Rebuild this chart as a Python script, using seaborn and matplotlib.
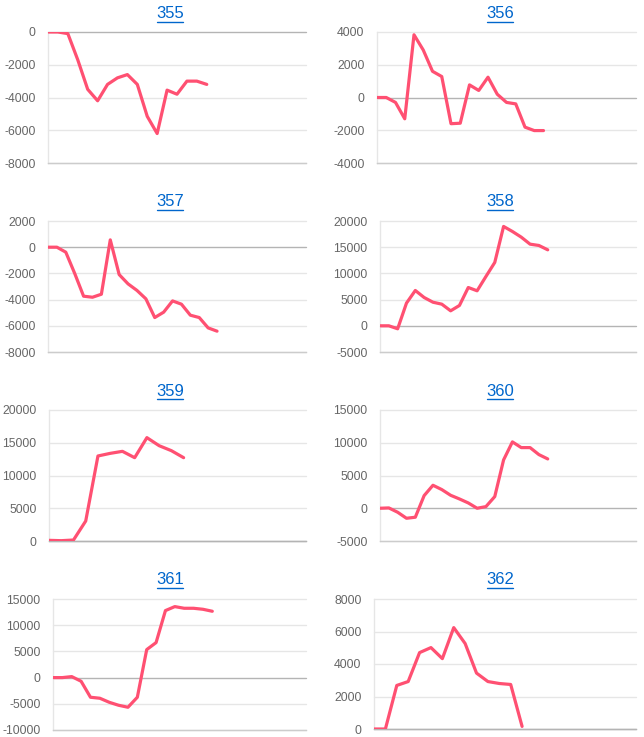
import numpy as np
import pandas as pd
import matplotlib
matplotlib.use("Agg")
import matplotlib.pyplot as plt
import seaborn as sns
from matplotlib.lines import Line2D

# ---- data ----
titles = ["355", "356", "357", "358", "359", "360", "361", "362"]

v355 = [0, 0, -100, -1700, -3500, -4200, -3200, -2800, -2600, -3200,
        -5150, -6200, -3550, -3800, -3000, -3000, -3200]
v356 = [0, 0, -300, -1300, 3830, 2900, 1600, 1280, -1600, -1570,
        770, 430, 1240, 200, -300, -390, -1810, -2020, -2020]
v357 = [0, 0, -380, -2000, -3740, -3820, -3590, 560, -2090, -2800,
        -3300, -3940, -5370, -4960, -4100, -4350, -5190, -5370, -6160, -6410]
v358 = [0, 0, -570, 4330, 6740, 5400, 4500, 4130, 2860, 3880,
        7310, 6680, 9410, 12090, 18960, 18000, 16920, 15580, 15330, 14500]
v359 = [100, 50, 150, 3050, 12980, 13380, 13690, 12720, 15780, 14550,
        13790, 12720]
v360 = [0, 50, -610, -1530, -1370, 1930, 3510, 2850, 1980, 1420,
        810, 0, 250, 1780, 7380, 10130, 9260, 9260, 8190, 7530]
v361 = [0, 0, 190, -700, -3750, -3940, -4710, -5280, -5660, -3750,
        5340, 6680, 12790, 13550, 13230, 13230, 13040, 12660]
v362 = [0, 0, 2680, 2920, 4700, 5010, 4330, 6240, 5260, 3440,
        2920, 2800, 2740, 160]

series = [v355, v356, v357, v358, v359, v360, v361, v362]

# x-axis length (label slots) for each panel
x_slots = [26, 28, 29, 29, 21, 29, 27, 23]

# y axis: (min, max, step)
y_axes = [(-8000, 0, 2000), (-4000, 4000, 2000), (-8000, 2000, 2000),
          (-5000, 20000, 5000), (0, 20000, 5000), (-5000, 15000, 5000),
          (-10000, 15000, 5000), (0, 8000, 2000)]

# ---- layout in pixels: left, right, top, bottom ----
W, H = 644, 737
boxes = [(48, 306, 32, 163), (377, 636, 32, 163),
         (48, 306, 221, 352), (380, 636, 221, 352),
         (49, 306, 410, 541), (380, 636, 410, 541),
         (53, 306, 599, 730), (374, 636, 599, 729)]
title_pos = [(170, 14), (500, 14), (170, 202), (500, 202),
             (170, 391), (500, 391), (170, 580), (500, 580)]

LINE = "#ff5072"
GRID = "#e6e6e6"
ZERO = "#b4b4b4"
TICK = "#666666"
LINK = "#0066cc"

sns.set_style("white")
plt.rcParams["font.family"] = ["Liberation Sans", "DejaVu Sans"]

fig = plt.figure(figsize=(W / 100, H / 100), dpi=100)

for i, vals in enumerate(series):
    l, r, t, b = boxes[i]
    ax = fig.add_axes([l / W, 1 - b / H, (r - l) / W, (b - t) / H])
    df = pd.DataFrame({"x": np.arange(len(vals)), "y": vals})
    sns.lineplot(data=df, x="x", y="y", ax=ax, color=LINE, linewidth=2.3,
                 zorder=3)

    ymin, ymax, step = y_axes[i]
    ticks = np.arange(ymin, ymax + step, step)
    ax.set_ylim(ymin, ymax)
    ax.set_yticks(ticks)
    ax.set_yticklabels([str(int(v)) for v in ticks])
    ax.set_xlim(0, x_slots[i])
    ax.set_xticks([])
    ax.set_xlabel("")
    ax.set_ylabel("")

    for v in ticks:
        c = ZERO if v == 0 else GRID
        ax.axhline(v, color=c, linewidth=1, zorder=1, clip_on=False)

    for s in ["top", "right"]:
        ax.spines[s].set_visible(False)
    ax.spines["left"].set_color(GRID)
    ax.spines["left"].set_linewidth(1)
    ax.spines["bottom"].set_color(ZERO if ymin == 0 else "#cccccc")
    ax.spines["bottom"].set_linewidth(1)
    ax.tick_params(axis="y", length=8, width=1, color=GRID, pad=1,
                   labelsize=8.8, labelcolor=TICK)

    tx, ty = title_pos[i]
    fig.text(tx / W, 1 - ty / H, titles[i], ha="center", va="center",
             fontsize=12, color=LINK)
    # underline like a link
    fig.add_artist(Line2D([(tx - 13) / W, (tx + 13) / W],
                          [1 - (ty + 8) / H, 1 - (ty + 8) / H],
                          color=LINK, linewidth=1))

fig.savefig("out.png", dpi=100, facecolor="white")
